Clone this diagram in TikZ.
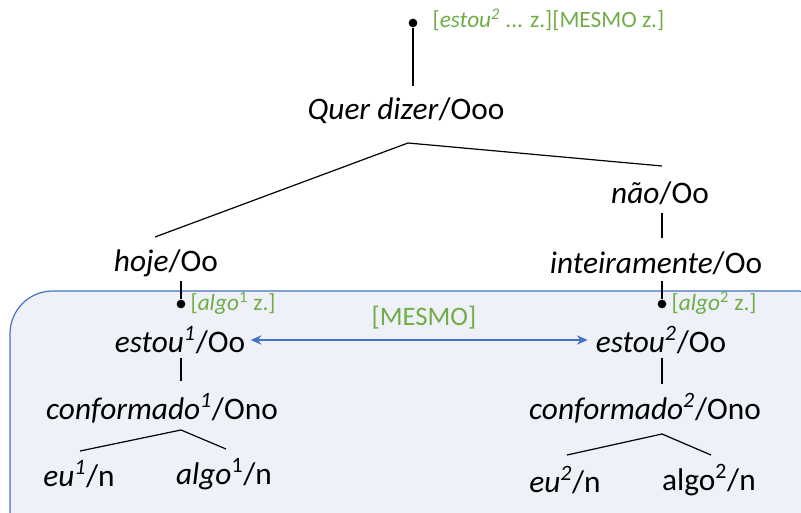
\documentclass[tikz,border=0pt]{standalone}
\usepackage{fontspec}
\setmainfont{Carlito}
\usetikzlibrary{arrows.meta,positioning}
\definecolor{notegreen}{RGB}{112,173,71}
\definecolor{boxblue}{RGB}{68,114,196}
\definecolor{boxfill}{RGB}{238,241,248}
\tikzset{
  word/.style={inner sep=1pt, font=\fontsize{23.5}{28}\selectfont},
  note/.style={inner sep=1pt, anchor=west, text=notegreen, font=\fontsize{17.5}{21}\selectfont},
  branch/.style={line width=0.9pt, black},
  dotmark/.style={circle, fill=black, inner sep=0pt, minimum size=6.5pt}
}
\begin{document}
\begin{tikzpicture}[x=0.75pt,y=-0.75pt]
    \clip (0,0) rectangle (801,513);
    % shaded region
    \draw[boxblue, line width=0.9pt, fill=boxfill, rounded corners=32pt] (10,291) rectangle (840,560);
    % upper tree
    \node[dotmark] (d0) at (413,23) {};
    \node[note] (n0) at (431,20) {[\textit{estou\textsuperscript{2}} ... z.][MESMO z.]};
    \node[word] (qd) at (406,111) {\textit{Quer dizer}/Ooo};
    \node[word] (nao) at (660,193) {\textit{não}/Oo};
    \node[word] (inteir) at (656,263) {\textit{inteiramente}/Oo};
    \node[word] (hoje) at (166,263) {\textit{hoje}/Oo};
    \coordinate (qd-t) at (413,86);
    \coordinate (qd-b) at (408,143);
    \coordinate (hoje-t) at (155,237);
    \coordinate (nao-t) at (662,166);
    \coordinate (nao-b) at (662,213);
    \coordinate (inteir-t) at (662,238);
    \draw[branch] (d0) -- (qd-t);
    \draw[branch] (qd-b) -- (hoje-t);
    \draw[branch] (qd-b) -- (nao-t);
    \draw[branch] (nao-b) -- (inteir-t);
    % left branch
    \node[dotmark] (d1) at (181,304) {};
    \node[note] (n1) at (189,303) {[\textit{algo}\textsuperscript{1} z.]};
    \node[word] (estou1) at (180,340) {\textit{estou\textsuperscript{1}}/Oo};
    \node[word] (conf1) at (162,408) {\textit{conformado\textsuperscript{1}}/Ono};
    \node[word] (eu1) at (79,474) {\textit{eu\textsuperscript{1}}/n};
    \node[word] (algo1) at (224,474) {\textit{algo}\textsuperscript{1}/n};
    \coordinate (hoje-b) at (181,281);
    \coordinate (estou1-b) at (181,358);
    \coordinate (conf1-t) at (181,381);
    \coordinate (conf1-b) at (181,430);
    \coordinate (eu1-t) at (80,451);
    \coordinate (algo1-t) at (226,449);
    \draw[branch] (hoje-b) -- (d1);
    \draw[branch] (estou1-b) -- (conf1-t);
    \draw[branch] (conf1-b) -- (eu1-t);
    \draw[branch] (conf1-b) -- (algo1-t);
    % right branch
    \node[dotmark] (d2) at (662,304) {};
    \node[note] (n2) at (670,303) {[\textit{algo}\textsuperscript{2} z.]};
    \node[word] (estou2) at (661,340) {\textit{estou\textsuperscript{2}}/Oo};
    \node[word] (conf2) at (645,408) {\textit{conformado\textsuperscript{2}}/Ono};
    \node[word] (eu2) at (565,480) {\textit{eu\textsuperscript{2}}/n};
    \node[word] (algo2) at (709,480) {algo\textsuperscript{2}/n};
    \coordinate (inteir-b) at (662,281);
    \coordinate (estou2-b) at (662,358);
    \coordinate (conf2-t) at (662,384);
    \coordinate (conf2-b) at (662,434);
    \coordinate (eu2-t) at (567,455);
    \coordinate (algo2-t) at (711,455);
    \draw[branch] (inteir-b) -- (d2);
    \draw[branch] (estou2-b) -- (conf2-t);
    \draw[branch] (conf2-b) -- (eu2-t);
    \draw[branch] (conf2-b) -- (algo2-t);
    % link between the two
    \node[text=notegreen, font=\fontsize{20}{24}\selectfont] (mesmo) at (424,318) {[MESMO]};
    \draw[{Stealth[length=8pt,width=7pt]}-{Stealth[length=8pt,width=7pt]}, boxblue, line width=1pt] ([xshift=3pt]estou1.east) -- ([xshift=-5pt]estou2.west);
\end{tikzpicture}
\end{document}
